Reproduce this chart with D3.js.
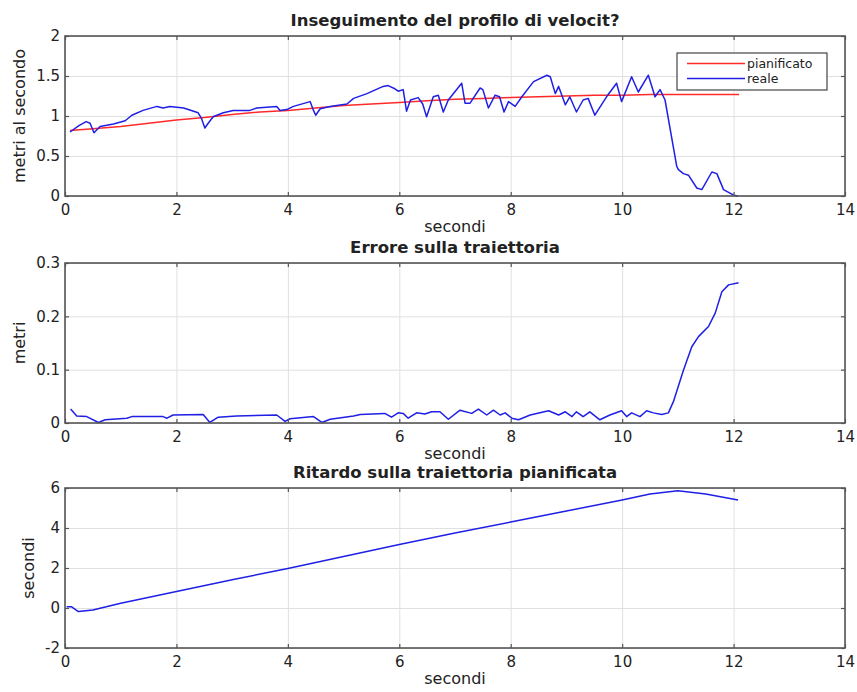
<!DOCTYPE html>
<html>
<head>
<meta charset="utf-8">
<script src="https://cdn.jsdelivr.net/npm/d3@7"></script>
<style>
body { margin: 0; background: #fff; }
text { font-family: "DejaVu Sans", sans-serif; fill: #222; }
.grid line { stroke: #e0e0e0; stroke-width: 1; }
.grid path { display: none; }
.tick-axis path { display: none; }
.tick-axis line { stroke: #555; stroke-width: 1.2; }
</style>
</head>
<body>
<div id="chart"></div>
<script>
// asse x comune
var xTicks = [0, 2, 4, 6, 8, 10, 12, 14];

// velocita' pianificata
var timePlan = [0.09, 0.5, 1, 1.5, 2, 2.5, 3, 3.5, 4, 4.5, 5, 5.5, 6, 6.5, 7, 7.5, 8, 8.5, 9, 9.5, 10, 10.5, 11, 11.5, 12.1];
var velPlan = [0.82, 0.84, 0.87, 0.91, 0.95, 0.98, 1.02, 1.05, 1.07, 1.10, 1.13, 1.15, 1.17, 1.19, 1.21, 1.22, 1.23, 1.24, 1.25, 1.26, 1.26, 1.27, 1.27, 1.27, 1.27];

// velocita' reale
var timeReal = [0.09, 0.25, 0.38, 0.45, 0.52, 0.63, 0.87, 1.08, 1.20, 1.40, 1.65, 1.76, 1.88, 2.13, 2.39, 2.45, 2.51, 2.57, 2.66, 2.84,
	3.02, 3.32, 3.44, 3.80, 3.86, 3.98, 4.10, 4.40, 4.46, 4.50, 4.58, 4.76, 5.06, 5.18, 5.42, 5.71, 5.80, 5.92, 5.98, 6.07,
	6.13, 6.20, 6.34, 6.42, 6.49, 6.61, 6.70, 6.79, 6.88, 7.12, 7.18, 7.27, 7.45, 7.50, 7.60, 7.72, 7.80, 7.88, 7.96, 8.08,
	8.20, 8.41, 8.65, 8.71, 8.80, 8.86, 8.98, 9.06, 9.18, 9.30, 9.39, 9.51, 9.72, 9.90, 9.99, 10.17, 10.29, 10.47, 10.59, 10.68,
	10.77, 10.98, 11.01, 11.10, 11.19, 11.34, 11.43, 11.61, 11.70, 11.82, 12.00, 12.08];
var velReal = [0.80, 0.88, 0.93, 0.91, 0.79, 0.87, 0.90, 0.94, 1.01, 1.07, 1.12, 1.10, 1.12, 1.10, 1.04, 0.97, 0.85, 0.91, 0.99, 1.04,
	1.07, 1.07, 1.10, 1.12, 1.07, 1.08, 1.12, 1.18, 1.07, 1.01, 1.09, 1.12, 1.15, 1.22, 1.28, 1.37, 1.38, 1.34, 1.31, 1.33,
	1.06, 1.20, 1.23, 1.15, 0.99, 1.24, 1.26, 1.05, 1.20, 1.41, 1.16, 1.16, 1.35, 1.33, 1.10, 1.26, 1.24, 1.05, 1.18, 1.12,
	1.24, 1.43, 1.51, 1.49, 1.28, 1.37, 1.14, 1.24, 1.05, 1.20, 1.22, 1.01, 1.24, 1.41, 1.18, 1.49, 1.30, 1.51, 1.24, 1.33,
	1.20, 0.37, 0.33, 0.28, 0.26, 0.10, 0.08, 0.30, 0.28, 0.08, 0.01, 0.00];

// errore sulla traiettoria
var timeErr = [0.10, 0.12, 0.21, 0.39, 0.60, 0.72, 1.11, 1.20, 1.76, 1.83, 1.94, 2.48, 2.60, 2.75, 3.08, 3.80, 3.95, 4.04, 4.46, 4.61,
	4.76, 5.18, 5.30, 5.74, 5.86, 5.98, 6.07, 6.16, 6.31, 6.46, 6.58, 6.73, 6.88, 7.09, 7.30, 7.42, 7.57, 7.69, 7.81, 7.90,
	8.02, 8.14, 8.35, 8.68, 8.86, 8.98, 9.10, 9.18, 9.30, 9.42, 9.60, 9.78, 9.99, 10.08, 10.17, 10.32, 10.44, 10.56, 10.71, 10.83,
	10.92, 11.10, 11.25, 11.37, 11.55, 11.67, 11.79, 11.91, 12.09];
var errVal = [0.026, 0.024, 0.013, 0.012, 0.001, 0.006, 0.009, 0.012, 0.012, 0.009, 0.015, 0.016, 0.001, 0.011, 0.013, 0.015, 0.003, 0.008, 0.012, 0.001,
	0.007, 0.013, 0.016, 0.018, 0.011, 0.019, 0.018, 0.009, 0.019, 0.017, 0.021, 0.021, 0.007, 0.024, 0.018, 0.026, 0.015, 0.024, 0.015, 0.019,
	0.009, 0.006, 0.015, 0.023, 0.015, 0.021, 0.012, 0.021, 0.012, 0.021, 0.006, 0.015, 0.023, 0.012, 0.019, 0.012, 0.023, 0.019, 0.016, 0.019,
	0.040, 0.099, 0.143, 0.162, 0.181, 0.206, 0.246, 0.259, 0.263];

// ritardo sulla traiettoria pianificata
var timeDelay = [0.03, 0.12, 0.24, 0.5, 1, 2, 3, 4, 5, 6, 7, 8, 9, 10, 10.5, 11, 11.5, 12.08];
var delayVal = [0.06, 0.06, -0.18, -0.10, 0.24, 0.83, 1.41, 1.98, 2.58, 3.18, 3.75, 4.30, 4.85, 5.40, 5.70, 5.86, 5.70, 5.40];

var legendNames = ["pianificato", "reale"];

var panels = [
	{ title: "Inseguimento del profilo di velocit?", yLabel: "metri al secondo", top: 36, bottom: 196,
		yDomain: [0, 2], yTicks: [0, 0.5, 1, 1.5, 2],
		series: [{ t: timePlan, v: velPlan, color: "#ff2a2a" }, { t: timeReal, v: velReal, color: "#1f1fe6" }] },
	{ title: "Errore sulla traiettoria", yLabel: "metri", top: 263, bottom: 423,
		yDomain: [0, 0.3], yTicks: [0, 0.1, 0.2, 0.3],
		series: [{ t: timeErr, v: errVal, color: "#1f1fe6" }] },
	{ title: "Ritardo sulla traiettoria pianificata", yLabel: "secondi", top: 488, bottom: 648,
		yDomain: [-2, 6], yTicks: [-2, 0, 2, 4, 6],
		series: [{ t: timeDelay, v: delayVal, color: "#1f1fe6" }] }
];

var W = 857, H = 692, left = 65, right = 845;

var svg = d3.select("#chart").append("svg")
	.attr("width", W)
	.attr("height", H);

var x = d3.scaleLinear().domain([0, 14]).range([left, right]);

panels.forEach(function (p) {
	var y = d3.scaleLinear().domain(p.yDomain).range([p.bottom, p.top]);
	var h = p.bottom - p.top;
	var g = svg.append("g").attr("class", "panel");

	// griglia
	g.append("g").attr("class", "grid")
		.attr("transform", "translate(0," + p.bottom + ")")
		.call(d3.axisBottom(x).tickValues(xTicks).tickSize(-h).tickFormat(""));
	g.append("g").attr("class", "grid")
		.attr("transform", "translate(" + left + ",0)")
		.call(d3.axisLeft(y).tickValues(p.yTicks).tickSize(-(right - left)).tickFormat(""));

	// curve
	p.series.forEach(function (s) {
		var pts = d3.zip(s.t, s.v);
		g.append("path")
			.datum(pts)
			.attr("fill", "none")
			.attr("stroke", s.color)
			.attr("stroke-width", 1.5)
			.attr("stroke-linejoin", "round")
			.attr("d", d3.line().x(function (d) { return x(d[0]); }).y(function (d) { return y(d[1]); }));
	});

	// tacche e etichette
	g.append("g").attr("class", "tick-axis")
		.attr("transform", "translate(0," + p.bottom + ")")
		.call(d3.axisBottom(x).tickValues(xTicks).tickSize(-4).tickPadding(8).tickFormat(String));
	g.append("g").attr("class", "tick-axis")
		.attr("transform", "translate(0," + p.top + ")")
		.call(d3.axisTop(x).tickValues(xTicks).tickSize(-4).tickFormat(""));
	var ly = g.append("g").attr("class", "tick-axis")
		.attr("transform", "translate(" + left + ",0)")
		.call(d3.axisLeft(y).tickValues(p.yTicks).tickSize(-4).tickPadding(5).tickFormat(String));
	g.append("g").attr("class", "tick-axis")
		.attr("transform", "translate(" + right + ",0)")
		.call(d3.axisRight(y).tickValues(p.yTicks).tickSize(-4).tickFormat(""));
	g.selectAll(".tick-axis text")
		.attr("font-size", 15)
		.attr("font-family", "DejaVu Sans, sans-serif")
		.attr("fill", "#333");

	// cornice
	g.append("rect")
		.attr("x", left).attr("y", p.top)
		.attr("width", right - left).attr("height", h)
		.attr("fill", "none")
		.attr("stroke", "#555")
		.attr("stroke-width", 1.6);

	// titolo
	g.append("text")
		.attr("x", (left + right) / 2)
		.attr("y", p.top - 10)
		.attr("text-anchor", "middle")
		.attr("font-size", 16.5)
		.attr("font-weight", "bold")
		.text(p.title);

	// etichetta x
	g.append("text")
		.attr("x", (left + right) / 2)
		.attr("y", p.bottom + 36)
		.attr("text-anchor", "middle")
		.attr("font-size", 16)
		.attr("fill", "#333")
		.text("secondi");

	// etichetta y, a lato delle etichette delle tacche
	var maxW = d3.max(ly.selectAll("text").nodes(), function (n) { return n.getBBox().width; });
	var lx = left - 5 - maxW - 11;
	g.append("text")
		.attr("transform", "translate(" + lx + "," + (p.top + h / 2) + ") rotate(-90)")
		.attr("text-anchor", "middle")
		.attr("font-size", 16)
		.attr("fill", "#333")
		.text(p.yLabel);
});

// legenda
var legend = svg.append("g").attr("class", "legend");
legend.append("rect")
	.attr("x", 677).attr("y", 53)
	.attr("width", 150).attr("height", 37)
	.attr("fill", "#fff")
	.attr("stroke", "#444")
	.attr("stroke-width", 1.2);
var entry = legend.selectAll(".entry")
	.data(legendNames)
	.enter()
	.append("g")
	.attr("class", "entry")
	.attr("transform", function (d, i) { return "translate(0," + (63.5 + i * 15) + ")"; });
entry.append("line")
	.attr("x1", 687).attr("x2", 745)
	.attr("y1", 0).attr("y2", 0)
	.attr("stroke", function (d, i) { return panels[0].series[i].color; })
	.attr("stroke-width", 1.5);
entry.append("text")
	.attr("x", 747)
	.attr("y", 0)
	.attr("dy", "0.35em")
	.attr("font-size", 12.5)
	.attr("fill", "#333")
	.text(function (d) { return d; });
</script>
</body>
</html>
